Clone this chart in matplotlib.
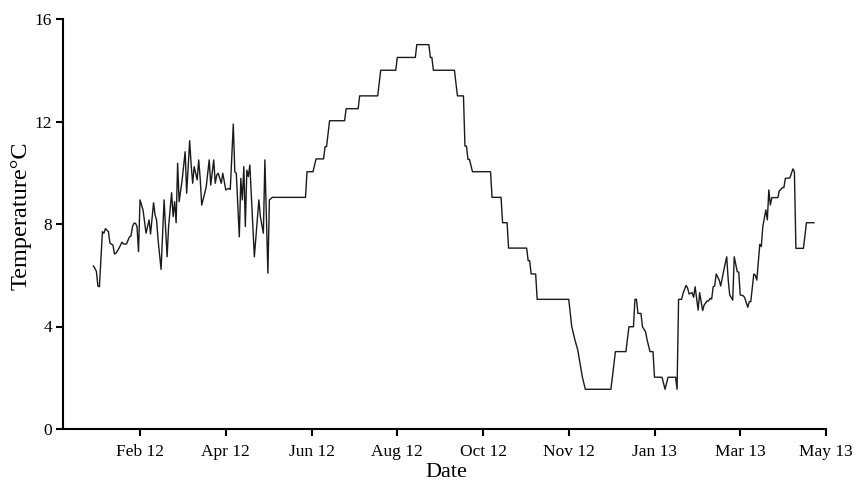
import numpy as np
import pandas as pd
import matplotlib
matplotlib.use("Agg")
import matplotlib.pyplot as plt

plt.rcParams['font.family'] = ['Liberation Serif', 'DejaVu Serif']

# Day offsets (days since 2012-01-01) and temperatures
day = [15, 16, 17, 18, 19, 21, 22, 23, 25, 26, 28, 29, 30, 32, 34, 35, 37, 39, 40, 41,
       42, 43, 44, 45, 46, 48, 49, 50, 52, 53, 55, 56, 57, 58, 60, 62, 64, 65, 67, 68,
       69, 70, 71, 72, 74, 76, 77, 79, 80, 81, 82, 84, 85, 86, 87, 89, 90, 92, 93, 95,
       96, 97, 98, 100, 101, 102, 103, 105, 106, 108, 109, 110, 112, 113, 114, 115, 116, 117, 118, 119,
       121, 122, 125, 126, 128, 129, 131, 132, 134, 156, 157, 161, 163, 168, 169, 170, 172, 182, 183, 191,
       192, 204, 206, 216, 217, 229, 230, 238, 239, 240, 241, 255, 257, 261, 262, 263, 264, 265, 267, 279,
       280, 286, 287, 290, 291, 303, 304, 305, 306, 309, 310, 331, 333, 335, 337, 340, 342, 359, 360, 362,
       369, 371, 374, 375, 376, 377, 379, 380, 382, 383, 385, 387, 388, 393, 395, 397, 402, 403, 404, 406,
       407, 409, 410, 411, 413, 414, 415, 417, 418, 420, 421, 423, 424, 425, 426, 427, 428, 429, 431, 432,
       434, 436, 437, 438, 440, 441, 443, 444, 445, 447, 448, 450, 451, 452, 454, 455, 456, 458, 459, 460,
       462, 463, 464, 465, 466, 470, 471, 472, 473, 474, 475, 478, 480, 481, 482, 487, 489, 494]
temp = [6.36, 6.27, 6.15, 5.58, 5.55, 7.70, 7.64, 7.82, 7.70, 7.25, 7.18, 6.83, 6.86, 7.05, 7.29, 7.22, 7.22, 7.50, 7.53, 7.90,
        8.03, 8.03, 7.90, 6.92, 8.94, 8.55, 8.09, 7.64, 8.16, 7.61, 8.83, 8.35, 8.16, 7.38, 6.23, 8.94, 6.72, 7.90, 9.22, 8.29,
        8.87, 8.05, 10.37, 8.87, 9.72, 10.82, 9.20, 11.25, 10.30, 9.59, 10.24, 9.72, 10.50, 9.78, 8.74, 9.20, 9.46, 10.50, 9.52, 10.50,
        9.59, 9.91, 9.98, 9.59, 9.98, 9.65, 9.33, 9.39, 9.35, 11.90, 10.04, 9.98, 7.50, 9.78, 8.94, 10.24, 7.90, 10.10, 9.85, 10.30,
        7.90, 6.72, 8.94, 8.29, 7.64, 10.50, 6.08, 8.94, 9.04, 9.04, 10.04, 10.04, 10.54, 10.54, 11.02, 11.02, 12.03, 12.03, 12.50, 12.50,
        13.00, 13.00, 14.00, 14.00, 14.50, 14.50, 15.00, 15.00, 14.50, 14.50, 14.00, 14.00, 13.00, 13.00, 11.04, 11.04, 10.52, 10.52, 10.04, 10.04,
        9.04, 9.04, 8.05, 8.05, 7.06, 7.06, 6.57, 6.57, 6.05, 6.05, 5.06, 5.06, 3.99, 3.50, 3.08, 2.04, 1.55, 1.55, 2.02, 3.02,
        3.02, 3.99, 3.99, 5.06, 5.06, 4.51, 4.51, 3.99, 3.80, 3.50, 3.02, 3.02, 2.02, 2.02, 1.55, 2.02, 2.02, 1.55, 5.06, 5.06,
        5.30, 5.60, 5.50, 5.27, 5.32, 5.14, 5.55, 4.64, 5.32, 4.62, 4.84, 5.00, 5.00, 5.10, 5.07, 5.55, 5.58, 6.05, 5.81, 5.58,
        6.18, 6.72, 5.81, 5.23, 5.03, 6.72, 6.14, 6.12, 5.23, 5.20, 5.12, 4.75, 4.97, 4.97, 6.05, 6.00, 5.81, 7.21, 7.12, 7.90,
        8.55, 8.16, 9.33, 8.74, 9.03, 9.03, 9.30, 9.35, 9.42, 9.42, 9.78, 9.80, 10.15, 10.04, 7.05, 7.05, 8.05, 8.05]

tick_labels = ['Feb 12', 'Apr 12', 'Jun 12', 'Aug 12', 'Oct 12', 'Nov 12', 'Jan 13', 'Mar 13', 'May 13']
y_ticks = [0, 4, 8, 12, 16]

base = pd.Timestamp('2012-01-01')
dates = base + pd.to_timedelta(day, unit='D')

fig = plt.figure(figsize=(8.55, 4.82), dpi=100)
ax = fig.add_axes([63/855, 1 - 429/482, (826 - 63)/855, (429 - 19)/482])

ax.plot(dates, temp, color='#1a1a1a', linewidth=1.0)

tick_pos = pd.Timestamp('2012-02-16') + pd.to_timedelta(np.arange(len(tick_labels)) * 57, unit='D')
ax.set_xticks(tick_pos)
ax.set_xticklabels(tick_labels)
ax.set_xlim(base + pd.Timedelta(days=-5.2), tick_pos[-1])
ax.set_ylim(0, 16)
ax.set_yticks(y_ticks)

for s in ['top', 'right']:
    ax.spines[s].set_visible(False)
for s in ['left', 'bottom']:
    ax.spines[s].set_linewidth(1.5)
    ax.spines[s].set_color('black')

ax.tick_params(axis='both', direction='out', length=5, width=1.5, colors='black',
               labelsize=12.5, pad=3)
ax.tick_params(axis='x', pad=5.5)

ax.set_xlabel('Date', fontsize=16)
ax.set_ylabel('Temperature\u00b0C', fontsize=17.5)
ax.xaxis.set_label_coords(0.503, -0.083)
ax.yaxis.set_label_coords(-0.041, 0.52)

fig.savefig('out.png', dpi=100)
